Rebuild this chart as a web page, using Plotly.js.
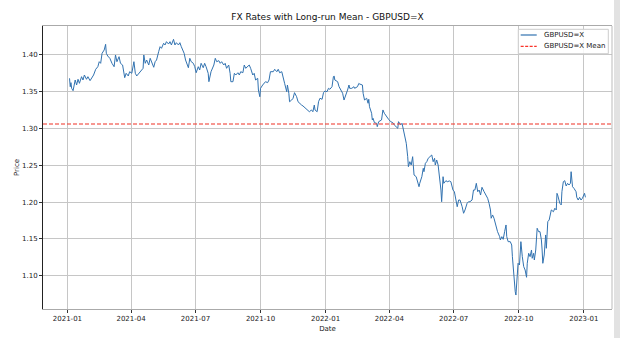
<!DOCTYPE html>
<html>
<head>
<meta charset="utf-8">
<script src="https://cdn.plot.ly/plotly-3.0.1.min.js"></script>
<style>
  html, body { margin: 0; padding: 0; background: #fff; }
  #chart { width: 620px; height: 338px; }
</style>
</head>
<body>
<div id="chart"></div>
<script>
// GBPUSD=X closes, 2021-01 .. 2023-01
var seriesName = 'GBPUSD=X';
var meanName = 'GBPUSD=X Mean';
var meanRate = 1.3062;

var dates = [
  '2021-01-04','2021-01-05','2021-01-06','2021-01-07','2021-01-09','2021-01-12','2021-01-14','2021-01-16','2021-01-18','2021-01-21',
  '2021-01-23','2021-01-25','2021-01-28','2021-01-30','2021-02-02','2021-02-07','2021-02-10','2021-02-13','2021-02-15','2021-02-17',
  '2021-02-19','2021-02-22','2021-02-24','2021-02-25','2021-02-27','2021-03-02','2021-03-05','2021-03-08','2021-03-10','2021-03-12',
  '2021-03-15','2021-03-17','2021-03-20','2021-03-23','2021-03-25','2021-03-28','2021-03-30','2021-04-02','2021-04-05','2021-04-07',
  '2021-04-09','2021-04-12','2021-04-15','2021-04-18','2021-04-19','2021-04-21','2021-04-23','2021-04-26','2021-04-28','2021-05-01',
  '2021-05-03','2021-05-05','2021-05-07','2021-05-10','2021-05-12','2021-05-14','2021-05-17','2021-05-19','2021-05-21','2021-05-24',
  '2021-05-26','2021-05-28','2021-05-31','2021-06-02','2021-06-04','2021-06-07','2021-06-09','2021-06-11','2021-06-15','2021-06-17',
  '2021-06-21','2021-06-23','2021-06-25','2021-06-28','2021-06-30','2021-07-02','2021-07-05','2021-07-07','2021-07-09','2021-07-12',
  '2021-07-14','2021-07-16','2021-07-19','2021-07-20','2021-07-22','2021-07-23','2021-07-27','2021-07-29','2021-07-31','2021-08-03',
  '2021-08-05','2021-08-07','2021-08-10','2021-08-12','2021-08-14','2021-08-17','2021-08-19','2021-08-20','2021-08-23','2021-08-25',
  '2021-08-27','2021-08-30','2021-09-01','2021-09-03','2021-09-06','2021-09-08','2021-09-10','2021-09-13','2021-09-15','2021-09-17',
  '2021-09-20','2021-09-22','2021-09-24','2021-09-27','2021-09-28','2021-09-30','2021-10-01','2021-10-04','2021-10-06','2021-10-08',
  '2021-10-11','2021-10-13','2021-10-15','2021-10-19','2021-10-21','2021-10-24','2021-10-26','2021-10-28','2021-10-31','2021-11-02',
  '2021-11-04','2021-11-07','2021-11-08','2021-11-10','2021-11-11','2021-11-14','2021-11-16','2021-11-18','2021-11-21','2021-11-23',
  '2021-11-25','2021-11-28','2021-11-30','2021-12-02','2021-12-05','2021-12-07','2021-12-09','2021-12-12','2021-12-14','2021-12-16',
  '2021-12-17','2021-12-20','2021-12-22','2021-12-24','2021-12-27','2021-12-29','2021-12-31','2022-01-03','2022-01-05','2022-01-07',
  '2022-01-10','2022-01-12','2022-01-13','2022-01-14','2022-01-18','2022-01-20','2022-01-21','2022-01-25','2022-01-27','2022-01-28',
  '2022-02-01','2022-02-03','2022-02-04','2022-02-07','2022-02-10','2022-02-11','2022-02-15','2022-02-17','2022-02-18','2022-02-22',
  '2022-02-23','2022-02-25','2022-02-28','2022-03-02','2022-03-03','2022-03-04','2022-03-07','2022-03-08','2022-03-09','2022-03-11',
  '2022-03-14','2022-03-15','2022-03-17','2022-03-21','2022-03-23','2022-03-25','2022-03-28','2022-03-31','2022-04-03','2022-04-06',
  '2022-04-08','2022-04-11','2022-04-13','2022-04-14','2022-04-17','2022-04-19','2022-04-20','2022-04-22','2022-04-25','2022-04-27',
  '2022-04-28','2022-04-30','2022-05-02','2022-05-04','2022-05-05','2022-05-06','2022-05-09','2022-05-11','2022-05-13','2022-05-14',
  '2022-05-17','2022-05-19','2022-05-20','2022-05-22','2022-05-24','2022-05-26','2022-05-29','2022-05-31','2022-06-02','2022-06-04',
  '2022-06-05','2022-06-07','2022-06-09','2022-06-11','2022-06-13','2022-06-14','2022-06-16','2022-06-17','2022-06-20','2022-06-22',
  '2022-06-25','2022-06-27','2022-06-30','2022-07-02','2022-07-04','2022-07-06','2022-07-08','2022-07-10','2022-07-13','2022-07-15',
  '2022-07-17','2022-07-20','2022-07-22','2022-07-24','2022-07-27','2022-07-29','2022-07-31','2022-08-02','2022-08-04','2022-08-06',
  '2022-08-08','2022-08-10','2022-08-13','2022-08-16','2022-08-18','2022-08-20','2022-08-22','2022-08-23','2022-08-25','2022-08-27',
  '2022-08-28','2022-08-30','2022-09-01','2022-09-04','2022-09-05','2022-09-07','2022-09-09','2022-09-11','2022-09-13','2022-09-14',
  '2022-09-16','2022-09-19','2022-09-21','2022-09-22','2022-09-23','2022-09-25','2022-09-26','2022-09-27','2022-09-28','2022-09-30',
  '2022-10-02','2022-10-03','2022-10-04','2022-10-06','2022-10-08','2022-10-10','2022-10-12','2022-10-13','2022-10-15','2022-10-17',
  '2022-10-19','2022-10-20','2022-10-22','2022-10-23','2022-10-25','2022-10-27','2022-10-29','2022-10-31','2022-11-02','2022-11-03',
  '2022-11-04','2022-11-06','2022-11-08','2022-11-09','2022-11-11','2022-11-13','2022-11-15','2022-11-16','2022-11-19','2022-11-21',
  '2022-11-23','2022-11-24','2022-11-25','2022-11-28','2022-11-30','2022-12-01','2022-12-03','2022-12-05','2022-12-07','2022-12-09',
  '2022-12-11','2022-12-13','2022-12-14','2022-12-16','2022-12-18','2022-12-21','2022-12-22','2022-12-24','2022-12-26','2022-12-28',
  '2022-12-30','2023-01-02','2023-01-03','2023-01-04'
];

var rates = [
  1.3683,1.3569,1.3624,1.3547,1.3515,1.3660,1.3592,1.3670,1.3615,1.3705,
  1.3660,1.3728,1.3670,1.3705,1.3651,1.3728,1.3806,1.3841,1.3909,1.3887,
  1.4023,1.4068,1.4145,1.4023,1.3986,1.3955,1.3887,1.3841,1.4000,1.3909,
  1.3977,1.3887,1.3864,1.3692,1.3751,1.3715,1.3773,1.3751,1.3909,1.3751,
  1.3715,1.3751,1.3796,1.3819,1.4000,1.3887,1.3932,1.3864,1.3955,1.3887,
  1.3833,1.3909,1.3932,1.4045,1.4113,1.4091,1.4159,1.4136,1.4181,1.4149,
  1.4181,1.4136,1.4213,1.4136,1.4167,1.4136,1.4167,1.4113,1.4023,1.3932,
  1.3827,1.3955,1.3909,1.3887,1.3841,1.3759,1.3841,1.3796,1.3887,1.3827,
  1.3887,1.3841,1.3751,1.3637,1.3751,1.3773,1.3864,1.3955,1.3909,1.3923,
  1.3887,1.3909,1.3864,1.3887,1.3819,1.3864,1.3751,1.3637,1.3637,1.3751,
  1.3728,1.3759,1.3728,1.3773,1.3759,1.3864,1.3819,1.3841,1.3864,1.3819,
  1.3728,1.3751,1.3660,1.3683,1.3524,1.3433,1.3547,1.3592,1.3615,1.3637,
  1.3624,1.3660,1.3773,1.3773,1.3806,1.3773,1.3806,1.3759,1.3773,1.3670,
  1.3615,1.3501,1.3592,1.3480,1.3365,1.3388,1.3412,1.3488,1.3433,1.3365,
  1.3344,1.3320,1.3307,1.3289,1.3262,1.3253,1.3229,1.3253,1.3229,1.3320,
  1.3253,1.3229,1.3365,1.3412,1.3398,1.3488,1.3511,1.3501,1.3547,1.3534,
  1.3569,1.3705,1.3715,1.3660,1.3637,1.3569,1.3547,1.3480,1.3388,1.3412,
  1.3524,1.3592,1.3547,1.3547,1.3569,1.3547,1.3569,1.3615,1.3606,1.3592,
  1.3480,1.3388,1.3412,1.3344,1.3398,1.3297,1.3208,1.3117,1.3140,1.3080,
  1.3072,1.3026,1.3094,1.3117,1.3253,1.3208,1.3162,1.3126,1.3094,1.3080,
  1.3049,1.3026,1.3004,1.3094,1.3049,1.3072,1.3026,1.2958,1.2800,1.2618,
  1.2482,1.2550,1.2505,1.2618,1.2505,1.2369,1.2346,1.2278,1.2210,1.2256,
  1.2346,1.2460,1.2414,1.2528,1.2550,1.2596,1.2618,1.2641,1.2550,1.2596,
  1.2505,1.2573,1.2505,1.2346,1.2165,1.2006,1.2346,1.2256,1.2292,1.2278,
  1.2288,1.2278,1.2165,1.2142,1.2053,1.1938,1.2029,1.2029,1.1938,1.1849,
  1.1894,1.1985,1.2006,1.2006,1.2029,1.2165,1.2165,1.2256,1.2142,1.2165,
  1.2097,1.2202,1.2142,1.2097,1.2053,1.1985,1.1894,1.1781,1.1826,1.1781,
  1.1735,1.1690,1.1599,1.1531,1.1486,1.1531,1.1495,1.1599,1.1690,1.1531,
  1.1463,1.1463,1.1418,1.1259,1.1123,1.0942,1.0783,1.0738,1.0942,1.1169,
  1.1146,1.1350,1.1463,1.1259,1.1123,1.1078,1.0979,1.1169,1.1305,1.1259,
  1.1350,1.1237,1.1305,1.1214,1.1350,1.1645,1.1599,1.1599,1.1486,1.1350,
  1.1169,1.1282,1.1554,1.1373,1.1735,1.1758,1.1826,1.1894,1.1870,1.1917,
  1.1894,1.2120,1.2097,1.1985,1.1962,1.2142,1.2278,1.2292,1.2220,1.2256,
  1.2233,1.2256,1.2414,1.2210,1.2188,1.2142,1.2066,1.2029,1.2066,1.2029,
  1.2053,1.2120,1.2074,1.2066
];

var xRange = ['2020-11-27 12:00', '2023-02-09 19:00'];
var yRange = [1.0548, 1.4394];

var fontFamily = 'DejaVu Sans, sans-serif';
var gridColor = '#c6c6c6';
var lineColor = '#3172b0';
var meanColor = 'rgba(240,70,60,0.75)';

var priceTrace = {
  x: dates,
  y: rates,
  type: 'scatter',
  mode: 'lines',
  name: seriesName,
  line: {color: lineColor, width: 1}
};

var meanTrace = {
  x: xRange,
  y: [meanRate, meanRate],
  type: 'scatter',
  mode: 'lines',
  name: meanName,
  line: {color: meanColor, width: 1.4, dash: '4px,2px'}
};

// matplotlib style legend box, drawn in paper coordinates
// (plotly's own legend rows are too tall for this small picture)
function legendParts() {
  var box = {type: 'rect', xref: 'paper', yref: 'paper',
             x0: 0.8353, x1: 0.9935, y0: 0.9021, y1: 0.9883,
             fillcolor: 'rgba(255,255,255,0.85)', line: {color: '#cccccc', width: 1}, layer: 'above'};
  var rows = [
    {name: seriesName, y: 0.9682, color: lineColor, dash: 'solid'},
    {name: meanName, y: 0.9283, color: 'rgba(250,40,30,0.95)', dash: '3px,1.5px'}
  ];
  var shapes = [box], notes = [];
  rows.forEach(function(r) {
    shapes.push({type: 'line', xref: 'paper', yref: 'paper', x0: 0.8395, x1: 0.8677, y0: r.y, y1: r.y,
                 line: {color: r.color, width: 1.2, dash: r.dash}, layer: 'above'});
    notes.push({text: r.name, xref: 'paper', yref: 'paper', x: 0.8765, y: r.y,
                xanchor: 'left', yanchor: 'middle', showarrow: false,
                font: {family: fontFamily, size: 7, color: '#222'}});
  });
  return {shapes: shapes, notes: notes};
}
var legend = legendParts();

var layout = {
  width: 620,
  height: 338,
  margin: {l: 43, r: 8, t: 26, b: 29, pad: 0},
  paper_bgcolor: '#ffffff',
  plot_bgcolor: '#ffffff',
  font: {family: fontFamily, size: 7, color: '#222'},
  showlegend: false,
  title: {
    text: 'FX Rates with Long-run Mean - GBPUSD=X',
    font: {family: fontFamily, size: 9, color: '#111'},
    x: 0.5, xref: 'paper', xanchor: 'center',
    y: 1 - 17 / 338, yref: 'container', yanchor: 'middle'
  },
  xaxis: {
    type: 'date',
    range: xRange,
    tick0: '2021-01-01',
    dtick: 'M3',
    tickformat: '%Y-%m',
    ticks: 'outside',
    ticklen: 3,
    tickcolor: '#333',
    tickfont: {size: 7, color: '#222'},
    showgrid: true,
    gridcolor: gridColor,
    gridwidth: 1,
    zeroline: false,
    showline: true,
    linecolor: '#aaaaaa',
    linewidth: 1,
    mirror: true,
    automargin: false,
    title: {text: 'Date', font: {size: 7, color: '#222'}, standoff: 3}
  },
  yaxis: {
    range: yRange,
    tick0: 1.1,
    dtick: 0.05,
    tickformat: '.2f',
    ticks: 'outside',
    ticklen: 3,
    tickcolor: '#333',
    tickfont: {size: 7, color: '#222'},
    showgrid: true,
    gridcolor: gridColor,
    gridwidth: 1,
    zeroline: false,
    showline: true,
    linecolor: '#222',
    linewidth: 1,
    automargin: false,
    title: {text: 'Price', font: {size: 7, color: '#222'}, standoff: 1}
  },
  annotations: legend.notes,
  shapes: [
    // right spine
    {type: 'line', xref: 'paper', yref: 'paper', x0: 1, x1: 1, y0: 0, y1: 1,
     line: {color: '#bbbbbb', width: 1}},
    // grey strip at the right edge of the picture
    {type: 'rect', xref: 'paper', yref: 'paper', x0: 1.0035, x1: 1.02, y0: -0.11, y1: 1.1,
     fillcolor: '#e2e2e2', line: {width: 0}, layer: 'above'}
  ].concat(legend.shapes)
};

Plotly.newPlot('chart', [priceTrace, meanTrace], layout, {staticPlot: true, displayModeBar: false});
</script>
</body>
</html>
